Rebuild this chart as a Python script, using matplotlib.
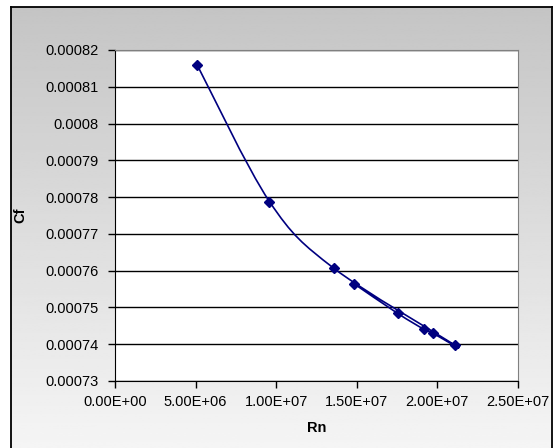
import matplotlib
matplotlib.use("Agg")
import matplotlib.pyplot as plt
import numpy as np
from matplotlib.path import Path
from matplotlib.patches import PathPatch

# --- data (in the order the series was plotted) ---
rn = [5.09e6, 9.58e6, 1.356e7, 2.107e7, 1.971e7, 1.915e7, 1.753e7, 1.484e7]
cf = [0.000816, 0.0007788, 0.0007607, 0.0007398, 0.000743, 0.0007441, 0.0007484, 0.0007564]

xticks = [0, 5e6, 1e7, 1.5e7, 2e7, 2.5e7]
xtick_labels = ["0.00E+00", "5.00E+06", "1.00E+07", "1.50E+07", "2.00E+07", "2.50E+07"]
yticks = [0.00073, 0.00074, 0.00075, 0.00076, 0.00077, 0.00078, 0.00079, 0.0008, 0.00081, 0.00082]
ytick_labels = ["0.00073", "0.00074", "0.00075", "0.00076", "0.00077",
                "0.00078", "0.00079", "0.0008", "0.00081", "0.00082"]

plt.rcParams["font.family"] = ["Liberation Sans", "DejaVu Sans"]

fig = plt.figure(figsize=(5.57, 4.48), dpi=100)
fig.patch.set_facecolor("white")

# gray gradient chart area with black border
bg = fig.add_axes([11 / 557, 0, 541 / 557, 441 / 448])
grad = np.linspace(0.77, 0.96, 256).reshape(-1, 1)
bg.imshow(grad, cmap="gray", vmin=0, vmax=1, aspect="auto", extent=[0, 1, 0, 1], origin="upper")
bg.set_xlim(0, 1)
bg.set_ylim(0, 1)
bg.set_xticks([])
bg.set_yticks([])
for s in ["left", "right", "top"]:
    bg.spines[s].set_color("black")
    bg.spines[s].set_linewidth(1.3)
bg.spines["bottom"].set_visible(False)

ax = fig.add_axes([115 / 557, 1 - 381 / 448, 403 / 557, 331 / 448])
ax.set_facecolor("white")

ax.set_xlim(0, 2.5e7)
ax.set_ylim(0.00073, 0.00082)
ax.set_xticks(xticks)
ax.set_xticklabels(xtick_labels)
ax.set_yticks(yticks)
ax.set_yticklabels(ytick_labels)
ax.tick_params(direction="out", length=5, width=1, labelsize=10.5, colors="black")
ax.tick_params(axis="y", pad=7)
ax.tick_params(axis="x", pad=5)

ax.grid(axis="y", color="black", linewidth=1)
ax.set_axisbelow(True)

ax.spines["top"].set_color("#808080")
ax.spines["right"].set_color("#808080")
ax.spines["left"].set_color("black")
ax.spines["bottom"].set_color("black")

# smoothed line (Excel style Bezier through the points)
pts = np.column_stack([rn, cf])
n = len(pts)
verts = [pts[0]]
codes = [Path.MOVETO]
for i in range(n - 1):
    p0 = pts[i - 1] if i > 0 else pts[i]
    p1 = pts[i]
    p2 = pts[i + 1]
    p3 = pts[i + 2] if i + 2 < n else pts[i + 1]
    c1 = p1 + (p2 - p0) / 6
    c2 = p2 - (p3 - p1) / 6
    verts += [c1, c2, p2]
    codes += [Path.CURVE4] * 3
ax.add_patch(PathPatch(Path(verts, codes), facecolor="none", edgecolor="#000080", linewidth=1.2))

ax.plot(rn, cf, linestyle="none", marker="D", markersize=5.5, color="#000080")

ax.set_xlabel("Rn", fontsize=10.5, fontweight="bold", labelpad=9)
ax.set_ylabel("Cf", fontsize=10.5, fontweight="bold", labelpad=13)

fig.savefig("out.png", dpi=100)
